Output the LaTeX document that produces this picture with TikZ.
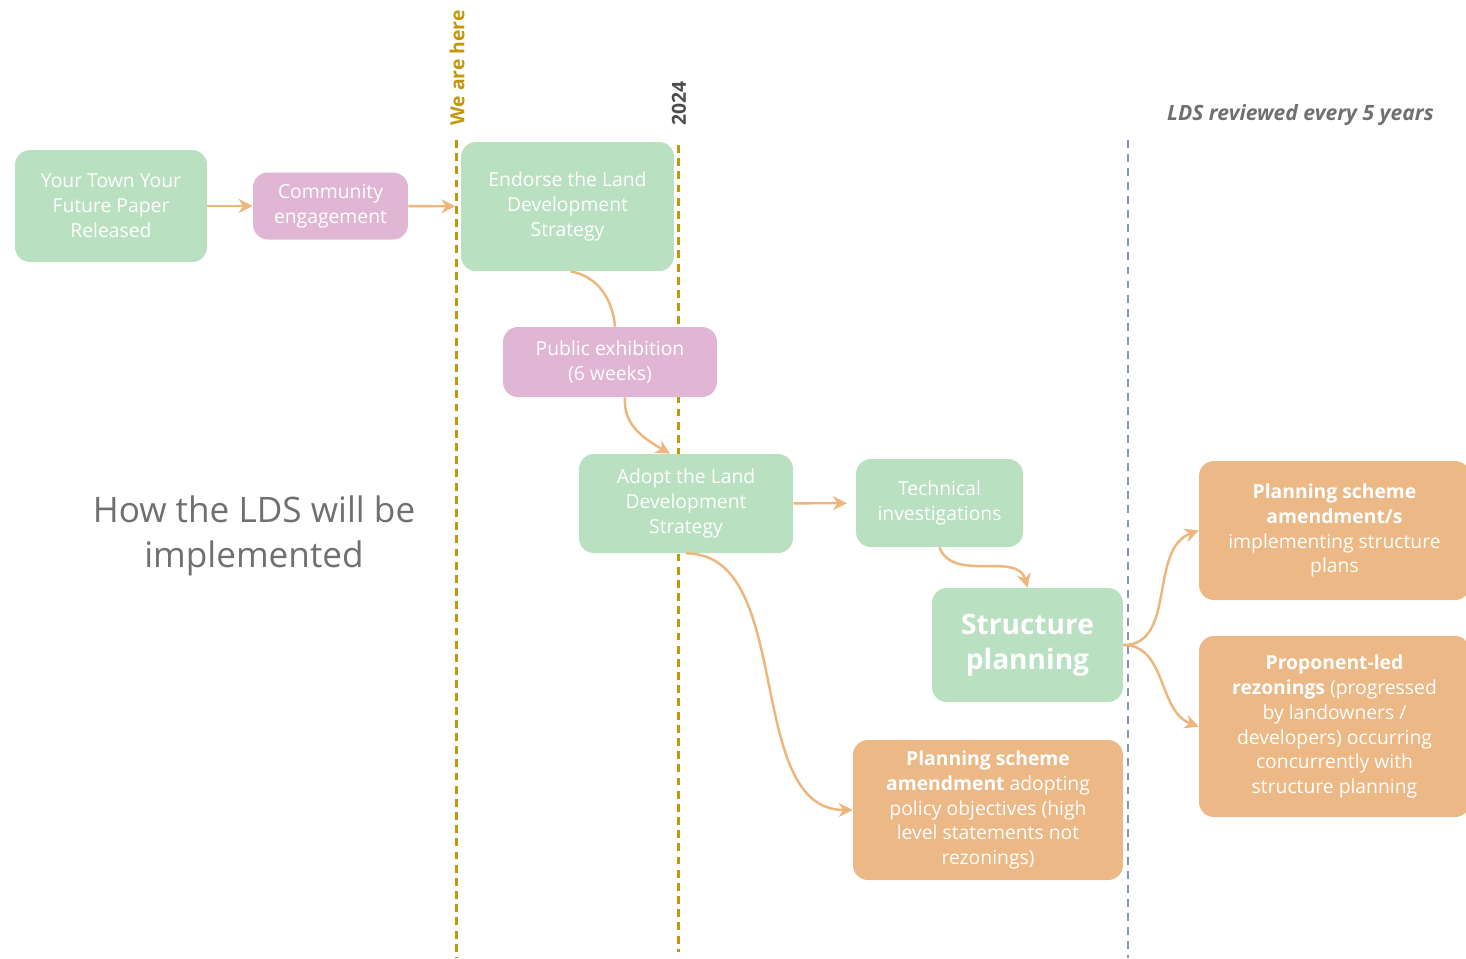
\documentclass[tikz,border=0pt]{standalone}
\usepackage{fontspec}
\setmainfont{Open Sans}
\usetikzlibrary{arrows.meta,positioning,calc}
\definecolor{stepGreen}{RGB}{185,224,193}
\definecolor{stepPink}{RGB}{224,182,212}
\definecolor{stepOrange}{RGB}{236,184,134}
\definecolor{flowCol}{RGB}{238,181,124}
\definecolor{hereCol}{RGB}{196,150,10}
\definecolor{reviewCol}{RGB}{132,152,180}
\definecolor{noteGray}{RGB}{112,112,112}
\tikzset{
  box/.style={rounded corners=8.5pt,align=center,text=white,inner sep=2pt,
              font=\fontsize{11}{14.2}\selectfont},
  greenbox/.style={box,fill=stepGreen},
  pinkbox/.style={box,fill=stepPink},
  orangebox/.style={box,fill=stepOrange},
  flow/.style={-{Stealth[length=2.8mm,width=2.8mm]},line width=1.4pt,draw=flowCol},
  link/.style={line width=1.4pt,draw=flowCol},
  here/.style={dash pattern=on 4.5pt off 3pt,line width=1.7pt,draw=hereCol},
  review/.style={dash pattern=on 4.5pt off 3.5pt,line width=1.3pt,draw=reviewCol},
  marker/.style={rotate=90,anchor=west,inner sep=0pt,font=\fontsize{11}{13}\selectfont\bfseries},
}

\begin{document}
\begin{tikzpicture}[x=0.02cm,y=-0.02cm]
    \useasboundingbox (0,0) rectangle (1466,958);
    % --- time markers ---
    \draw[here]   (456,140) -- (456,958);
    \draw[here]   (678,145) -- (678,952);
    \draw[review] (1128,140) -- (1128,958);
    \node[marker,text=hereCol] (here) at (457,126) {We are here};
    \node[marker,text=black!70] (year) at (679,126) {2024};
    \node[anchor=east,text=noteGray,font=\fontsize{12}{14}\selectfont\bfseries\itshape] (review) at (1440,115)
        {LDS reviewed every 5 years};
    \node[text=noteGray,align=center,font=\fontsize{20}{25.5}\selectfont] (title) at (254,536)
        {How the LDS will be\\implemented};
    % --- steps ---
    \node[greenbox,minimum width=3.84cm,minimum height=2.24cm] (paper) at (111,206)
        {Your Town Your\\Future Paper\\Released};
    \node[pinkbox,minimum width=3.1cm,minimum height=1.34cm] (engage) at (330.5,206)
        {Community\\engagement};
    \node[greenbox,minimum width=4.26cm,minimum height=2.58cm] (endorse) at (567.5,206.5)
        {Endorse the Land\\Development\\Strategy};
    \node[pinkbox,minimum width=4.28cm,minimum height=1.4cm] (exhibit) at (610,362)
        {Public exhibition\\(6 weeks)};
    \node[greenbox,minimum width=4.28cm,minimum height=1.98cm] (adopt) at (686,503.5)
        {Adopt the Land\\Development\\Strategy};
    \node[greenbox,minimum width=3.34cm,minimum height=1.76cm] (tech) at (939.5,503)
        {Technical\\investigations};
    \node[greenbox,minimum width=3.82cm,minimum height=2.28cm,
          font=\fontsize{16}{20}\selectfont\bfseries] (struct) at (1027.5,645)
        {Structure\\planning};
    \node[orangebox,minimum width=5.4cm,minimum height=2.8cm] (psa) at (988,810)
        {\textbf{Planning scheme}\\\textbf{amendment} adopting\\policy objectives (high\\level statements not\\rezonings)};
    \node[orangebox,minimum width=5.42cm,minimum height=2.78cm] (psaplans) at (1334.5,530.5)
        {\textbf{Planning scheme}\\\textbf{amendment/s}\\implementing structure\\plans};
    \node[orangebox,minimum width=5.42cm,minimum height=3.62cm] (rezone) at (1334.5,726.5)
        {\textbf{Proponent-led}\\\textbf{rezonings} (progressed\\by landowners /\\developers) occurring\\concurrently with\\structure planning};
    % --- connectors ---
    \draw[flow] (paper) -- (engage);
    \draw[flow,shorten >=3pt] (engage) -- (endorse);
    \draw[link] ($(endorse.south)+(3,0)$) to[out=-10,in=95] ($(exhibit.north)+(5,0)$);
    \draw[flow] ($(exhibit.south)+(15,0)$) to[out=-95,in=150] ($(adopt.north)+(-16,0)$);
    \draw[flow,shorten >=5pt] (adopt) -- (tech);
    \draw[flow] (tech.south) to[out=-70,in=105] (struct.north);
    \draw[flow] (adopt.south) .. controls +(110,0) and +(-110,0) .. (psa.west);
    \draw[flow] (struct.east) to[out=0,in=200] (psaplans.west);
    \draw[flow] (struct.east) to[out=0,in=160] (rezone.west);
\end{tikzpicture}
\end{document}
